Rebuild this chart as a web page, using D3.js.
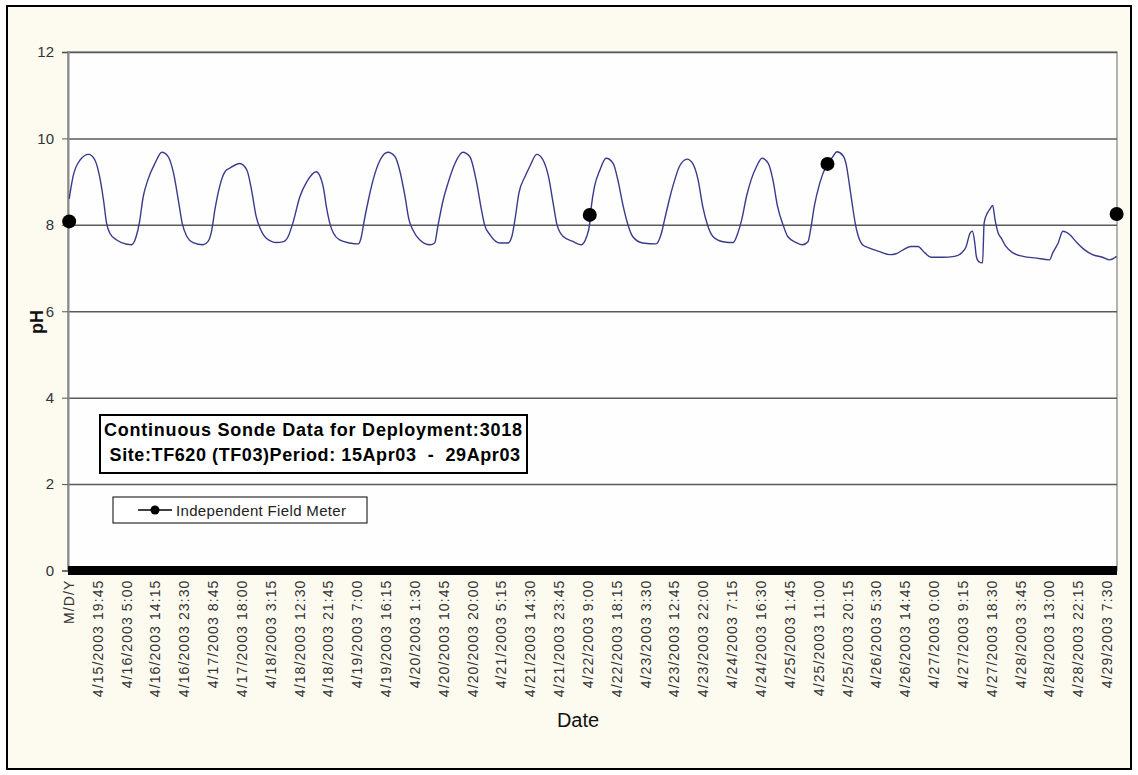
<!DOCTYPE html>
<html><head><meta charset="utf-8">
<script src="https://cdn.jsdelivr.net/npm/d3@7"></script>
<style>
html,body{margin:0;padding:0;background:#ffffff;}
svg text{font-family:"Liberation Sans",Arial,sans-serif;}
</style></head>
<body>
<svg id="chart" width="1138" height="775"></svg>
<script>
// ---- DATA ----
const phTimes = [
"4/15/2003 10:45","4/15/2003 12:00","4/15/2003 14:15","4/15/2003 17:00","4/15/2003 19:00","4/15/2003 20:30","4/15/2003 21:45","4/15/2003 22:45","4/15/2003 23:45",
"4/16/2003 2:00","4/16/2003 5:15","4/16/2003 6:45","4/16/2003 8:15","4/16/2003 9:15","4/16/2003 10:30","4/16/2003 12:00","4/16/2003 14:15","4/16/2003 16:30","4/16/2003 18:30","4/16/2003 20:15","4/16/2003 21:45","4/16/2003 23:00",
"4/17/2003 0:30","4/17/2003 2:30","4/17/2003 5:45","4/17/2003 7:15","4/17/2003 8:30","4/17/2003 9:30","4/17/2003 11:00","4/17/2003 12:45","4/17/2003 14:15","4/17/2003 17:30","4/17/2003 19:45","4/17/2003 21:15","4/17/2003 22:45",
"4/18/2003 0:00","4/18/2003 2:00","4/18/2003 5:15","4/18/2003 7:30","4/18/2003 9:00","4/18/2003 10:30","4/18/2003 12:45","4/18/2003 15:00","4/18/2003 18:00","4/18/2003 20:15","4/18/2003 21:15","4/18/2003 22:30","4/18/2003 23:30",
"4/19/2003 1:30","4/19/2003 4:45","4/19/2003 7:30","4/19/2003 8:30","4/19/2003 9:15","4/19/2003 10:45","4/19/2003 12:15","4/19/2003 14:30","4/19/2003 17:00","4/19/2003 19:15","4/19/2003 20:45","4/19/2003 22:30","4/19/2003 23:45",
"4/20/2003 1:00","4/20/2003 3:15","4/20/2003 6:30","4/20/2003 8:00","4/20/2003 9:00","4/20/2003 10:45","4/20/2003 12:15","4/20/2003 14:30","4/20/2003 17:00","4/20/2003 19:15","4/20/2003 21:30","4/20/2003 23:00",
"4/21/2003 0:00","4/21/2003 1:45","4/21/2003 5:00","4/21/2003 7:30","4/21/2003 8:45","4/21/2003 9:45","4/21/2003 11:00","4/21/2003 13:00","4/21/2003 14:30","4/21/2003 16:45","4/21/2003 18:45","4/21/2003 20:30","4/21/2003 22:00","4/21/2003 23:15",
"4/22/2003 1:15","4/22/2003 4:30","4/22/2003 7:00","4/22/2003 8:45","4/22/2003 9:45","4/22/2003 10:15","4/22/2003 11:15","4/22/2003 13:00","4/22/2003 15:00","4/22/2003 17:15","4/22/2003 18:45","4/22/2003 20:30","4/22/2003 22:00","4/22/2003 23:30",
"4/23/2003 2:45","4/23/2003 7:00","4/23/2003 8:45","4/23/2003 9:45","4/23/2003 11:30","4/23/2003 13:00","4/23/2003 14:30","4/23/2003 17:00","4/23/2003 18:45","4/23/2003 20:30","4/23/2003 22:00","4/23/2003 23:30",
"4/24/2003 1:15","4/24/2003 4:30","4/24/2003 7:45","4/24/2003 9:15","4/24/2003 10:30","4/24/2003 12:00","4/24/2003 13:30","4/24/2003 15:15","4/24/2003 17:00","4/24/2003 19:00","4/24/2003 20:30","4/24/2003 22:00","4/24/2003 23:45",
"4/25/2003 1:15","4/25/2003 4:00","4/25/2003 6:00","4/25/2003 7:45","4/25/2003 8:45","4/25/2003 9:45","4/25/2003 11:30","4/25/2003 13:30","4/25/2003 15:45","4/25/2003 17:00","4/25/2003 19:00","4/25/2003 20:00","4/25/2003 21:00","4/25/2003 22:00","4/25/2003 23:00","4/25/2003 23:45",
"4/26/2003 1:15","4/26/2003 3:30","4/26/2003 6:45","4/26/2003 10:00","4/26/2003 12:00","4/26/2003 14:15","4/26/2003 16:45","4/26/2003 19:00","4/26/2003 21:15","4/26/2003 23:15",
"4/27/2003 3:00","4/27/2003 6:45","4/27/2003 9:00","4/27/2003 10:30","4/27/2003 11:45","4/27/2003 12:30","4/27/2003 13:15","4/27/2003 13:45","4/27/2003 14:30","4/27/2003 15:45","4/27/2003 16:15","4/27/2003 17:00","4/27/2003 18:00","4/27/2003 19:00","4/27/2003 19:45","4/27/2003 20:45","4/27/2003 21:45","4/27/2003 23:15",
"4/28/2003 1:30","4/28/2003 4:45","4/28/2003 9:00","4/28/2003 13:15","4/28/2003 14:15","4/28/2003 16:00","4/28/2003 17:30","4/28/2003 19:45","4/28/2003 21:45",
"4/29/2003 0:30","4/29/2003 3:00","4/29/2003 6:15","4/29/2003 8:30","4/29/2003 10:45"
];
const phValues = [
8.60,9.12,9.50,9.63,9.50,9.12,8.58,8.04,7.81,
7.65,7.55,7.54,7.73,8.04,8.65,9.04,9.42,9.68,9.58,9.19,8.58,8.04,
7.73,7.59,7.54,7.61,7.88,8.35,8.88,9.23,9.31,9.42,9.27,8.81,8.19,
7.92,7.69,7.59,7.61,7.73,8.04,8.65,9.00,9.23,8.88,8.42,8.00,7.81,
7.65,7.58,7.56,7.73,8.04,8.58,9.04,9.50,9.68,9.58,9.27,8.65,8.12,
7.88,7.65,7.54,7.58,7.96,8.58,8.96,9.42,9.68,9.58,8.96,8.35,
8.00,7.77,7.58,7.58,7.73,8.12,8.73,9.12,9.35,9.63,9.50,9.12,8.50,8.00,
7.73,7.61,7.54,7.73,8.04,8.42,8.88,9.27,9.54,9.42,9.04,8.42,8.00,7.73,
7.58,7.56,7.81,8.12,8.65,9.04,9.35,9.52,9.42,9.04,8.42,8.00,
7.73,7.61,7.59,7.81,8.12,8.65,9.04,9.35,9.54,9.42,9.04,8.42,8.00,
7.73,7.59,7.54,7.61,7.96,8.42,8.96,9.35,9.58,9.69,9.60,9.40,8.95,8.45,8.00,7.77,
7.54,7.46,7.38,7.31,7.33,7.42,7.50,7.50,7.35,7.25,
7.25,7.27,7.35,7.50,7.81,7.85,7.58,7.27,7.15,7.12,8.04,8.23,8.35,8.45,8.12,7.81,7.69,7.50,
7.35,7.27,7.23,7.19,7.35,7.58,7.85,7.77,7.61,
7.42,7.31,7.25,7.19,7.27
];
const meterTimes = ["4/15/2003 10:45","4/22/2003 9:45","4/25/2003 14:00","4/29/2003 10:45"];
const meterValues = [8.08, 8.23, 9.41, 8.25];
const xTickLabels = ["M/D/Y","4/15/2003 19:45","4/16/2003 5:00","4/16/2003 14:15","4/16/2003 23:30","4/17/2003 8:45","4/17/2003 18:00","4/18/2003 3:15","4/18/2003 12:30","4/18/2003 21:45","4/19/2003 7:00","4/19/2003 16:15","4/20/2003 1:30","4/20/2003 10:45","4/20/2003 20:00","4/21/2003 5:15","4/21/2003 14:30","4/21/2003 23:45","4/22/2003 9:00","4/22/2003 18:15","4/23/2003 3:30","4/23/2003 12:45","4/23/2003 22:00","4/24/2003 7:15","4/24/2003 16:30","4/25/2003 1:45","4/25/2003 11:00","4/25/2003 20:15","4/26/2003 5:30","4/26/2003 14:45","4/27/2003 0:00","4/27/2003 9:15","4/27/2003 18:30","4/28/2003 3:45","4/28/2003 13:00","4/28/2003 22:15","4/29/2003 7:30"];
const yTicks = [0,2,4,6,8,10,12];
const boxLines = ["Continuous Sonde Data for Deployment:3018"," Site:TF620 (TF03)Period: 15Apr03  -  29Apr03"];
const legendLabel = "Independent Field Meter";
const xTitle = "Date", yTitle = "pH";

// ---- CHART ----
const parse = d3.timeParse("%m/%d/%Y %H:%M");
const svg = d3.select("#chart");
const L = 68, R = 1117, T = 52, B = 570.5;
const first = parse(phTimes[0]), last = parse(phTimes[phTimes.length-1]);
const headerSlot = d3.timeMinute.offset(first, -15);
const x = d3.scaleTime()
  .domain([d3.timeSecond.offset(headerSlot, -450), d3.timeSecond.offset(last, 450)])
  .range([L, R]);
const y = d3.scaleLinear().domain([0, 12]).range([B, T]);

// outer frame
svg.append("rect").attr("x",7).attr("y",6).attr("width",1124).attr("height",763)
  .attr("fill","#fdfaf0").attr("stroke","#000").attr("stroke-width",2);

// plot area
svg.append("rect").attr("x",L).attr("y",T).attr("width",R-L).attr("height",B-T)
  .attr("fill","#fefefe").attr("stroke","#9a9a9a").attr("stroke-width",1.5);

// gridlines
svg.append("g").attr("transform",`translate(${L},0)`)
  .call(d3.axisLeft(y).tickValues(yTicks.filter(v=>v>0)).tickSize(-(R-L)).tickFormat(""))
  .call(g=>g.select(".domain").remove())
  .call(g=>g.selectAll("line").attr("stroke","#5a5a5a").attr("stroke-width",1.5));

// y axis
svg.append("g").attr("transform",`translate(${L},0)`)
  .call(d3.axisLeft(y).tickValues(yTicks).tickSize(6).tickPadding(8))
  .call(g=>g.select(".domain").attr("stroke","#8a8a8a").attr("stroke-width",2))
  .call(g=>g.selectAll("line").attr("stroke","#555"))
  .call(g=>g.selectAll("text").attr("fill","#333").style("font-size","15px"));

// dense category tick band
svg.append("rect").attr("x",x.range()[0]).attr("y",y(0)-4.5)
  .attr("width",x.range()[1]-x.range()[0]).attr("height",9).attr("fill","#000");

// x axis labels
const tickDates = xTickLabels.map(s => s === "M/D/Y" ? headerSlot : parse(s));
svg.append("g").attr("transform",`translate(0,${y(0)})`)
  .call(d3.axisBottom(x).tickValues(tickDates).tickSize(0).tickFormat((d,i)=>xTickLabels[i]))
  .call(g=>g.select(".domain").remove())
  .call(g=>g.selectAll("text")
    .attr("transform","rotate(-90)").attr("x",-9).attr("y",0).attr("dy","0.36em")
    .style("text-anchor","end").style("font-size","14px").style("letter-spacing","1.1px")
    .attr("fill","#333"));

// pH line
const pts = phTimes.map((t,i)=>({t:parse(t), v:phValues[i]}));
svg.append("path").datum(pts)
  .attr("fill","none").attr("stroke","#3a3a8c").attr("stroke-width",1.4)
  .attr("d", d3.line().x(d=>x(d.t)).y(d=>y(d.v)).curve(d3.curveMonotoneX));

// meter points
svg.append("g").selectAll("circle").data(meterTimes.map((t,i)=>({t:parse(t), v:meterValues[i]})))
  .join("circle").attr("cx",d=>x(d.t)).attr("cy",d=>y(d.v)).attr("r",7).attr("fill","#000");

// axis titles
svg.append("text").attr("x",578).attr("y",727).attr("text-anchor","middle")
  .style("font-size","20px").attr("fill","#111").text(xTitle);
svg.append("text").attr("transform","translate(43,322) rotate(-90)").attr("text-anchor","middle")
  .style("font-size","18px").style("font-weight","bold").attr("fill","#111").text(yTitle);

// text box
svg.append("rect").attr("x",100).attr("y",415).attr("width",427).attr("height",58)
  .attr("fill","#fff").attr("stroke","#000").attr("stroke-width",2);
svg.append("text").attr("x",104).attr("y",436).style("font-size","18px").style("font-weight","bold")
  .attr("textLength",418).attr("lengthAdjust","spacing").attr("fill","#000").text(boxLines[0]);
svg.append("text").attr("x",104).attr("y",461).style("font-size","18px").style("font-weight","bold")
  .style("white-space","pre").attr("textLength",416).attr("lengthAdjust","spacing").attr("fill","#000").text(boxLines[1]);

// legend
svg.append("rect").attr("x",113).attr("y",497).attr("width",254).attr("height",26)
  .attr("fill","#fff").attr("stroke","#000").attr("stroke-width",1);
svg.append("line").attr("x1",138).attr("x2",172).attr("y1",510).attr("y2",510).attr("stroke","#000").attr("stroke-width",1.5);
svg.append("circle").attr("cx",155).attr("cy",510).attr("r",4.5).attr("fill","#000");
svg.append("text").attr("x",176).attr("y",515.5).style("font-size","15px").attr("fill","#222")
  .attr("textLength",170).attr("lengthAdjust","spacing").text(legendLabel);
</script>
</body></html>
